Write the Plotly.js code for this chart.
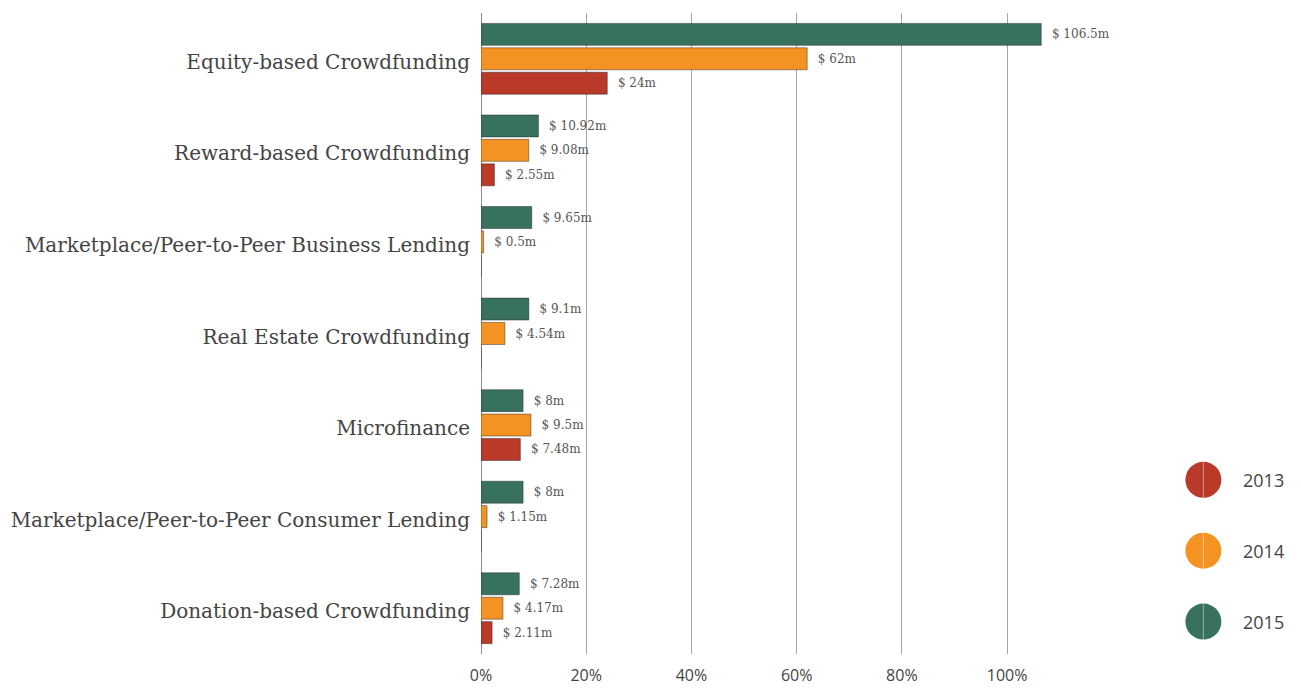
<!DOCTYPE html>
<html>
<head>
<meta charset="utf-8">
<script src="https://cdn.plot.ly/plotly-3.0.1.min.js"></script>
<style>html,body{margin:0;padding:0;background:#fff;}#chart{width:1301px;height:689px;}</style>
</head>
<body>
<div id="chart"></div>
<script>
var categories = [
  "Equity-based Crowdfunding",
  "Reward-based Crowdfunding",
  "Marketplace/Peer-to-Peer Business Lending",
  "Real Estate Crowdfunding",
  "Microfinance",
  "Marketplace/Peer-to-Peer Consumer Lending",
  "Donation-based Crowdfunding"
];
var values2015 = [106.5, 10.92, 9.65, 9.1, 8, 8, 7.28];
var values2014 = [62, 9.08, 0.5, 4.54, 9.5, 1.15, 4.17];
var values2013 = [24, 2.55, 0, 0, 7.48, 0, 2.11];
var years = ["2013", "2014", "2015"];
var xTicks = [0, 20, 40, 60, 80, 100];
var xTickLabels = ["0%", "20%", "40%", "60%", "80%", "100%"];

var colors = {"2013": "#b93a29", "2014": "#f49322", "2015": "#38725f"};

function labels(vals) {
  return vals.map(function (v) { return v > 0 ? "\u00a0\u00a0$ " + v + "m" : ""; });
}
function barTrace(vals, year) {
  return {
    type: "bar", orientation: "h", name: year,
    x: vals, y: categories,
    text: labels(vals), textposition: "outside", cliponaxis: false,
    textfont: {family: "DejaVu Serif", size: 12, color: "#555"},
    marker: {color: colors[year], line: {color: "rgba(30,30,30,0.55)", width: 0.8}},
    showlegend: false, hoverinfo: "x+y"
  };
}
var data = [
  barTrace(values2015, "2015"),
  barTrace(values2014, "2014"),
  barTrace(values2013, "2013")
];

var legendY = [0.2718, 0.1612, 0.0506];
var shapes = [], annotations = [];
years.forEach(function (yr, i) {
  shapes.push({
    type: "circle", xref: "paper", yref: "paper",
    xsizemode: "pixel", ysizemode: "pixel",
    xanchor: 1.194, yanchor: legendY[i],
    x0: -18, x1: 18, y0: -18, y1: 18,
    fillcolor: colors[yr], line: {width: 0}
  });
  shapes.push({
    type: "line", xref: "paper", yref: "paper",
    xsizemode: "pixel", ysizemode: "pixel",
    xanchor: 1.194, yanchor: legendY[i],
    x0: 0, x1: 0, y0: -18, y1: 18,
    line: {color: "rgba(255,255,255,0.45)", width: 1}
  });
  annotations.push({
    xref: "paper", yref: "paper", x: 1.257, y: legendY[i],
    xanchor: "left", yanchor: "middle", showarrow: false,
    text: yr, font: {family: "Open Sans", size: 18, color: "#444"}
  });
});

var layout = {
  width: 1301, height: 689,
  margin: {l: 481, r: 214.5, t: 12.5, b: 34.5},
  paper_bgcolor: "#fff", plot_bgcolor: "#fff",
  barmode: "group", bargap: 0.2, bargroupgap: 0.1,
  xaxis: {
    range: [0, 115], tickmode: "array", tickvals: xTicks, ticktext: xTickLabels,
    showgrid: true, gridcolor: "#a6a6a6", gridwidth: 1,
    zeroline: true, zerolinecolor: "#8f8f8f", zerolinewidth: 1,
    showline: false, ticks: "", ticklabelstandoff: 10,
    tickfont: {family: "Open Sans", size: 16, color: "#444"}
  },
  yaxis: {
    autorange: "reversed", showgrid: false, zeroline: false, showline: false,
    ticks: "", ticklabelstandoff: 10, ticklabelshift: -3,
    tickfont: {family: "DejaVu Serif", size: 20, color: "#444"}
  },
  shapes: shapes,
  annotations: annotations,
  showlegend: false
};

Plotly.newPlot("chart", data, layout, {displayModeBar: false, staticPlot: true});
</script>
</body>
</html>
